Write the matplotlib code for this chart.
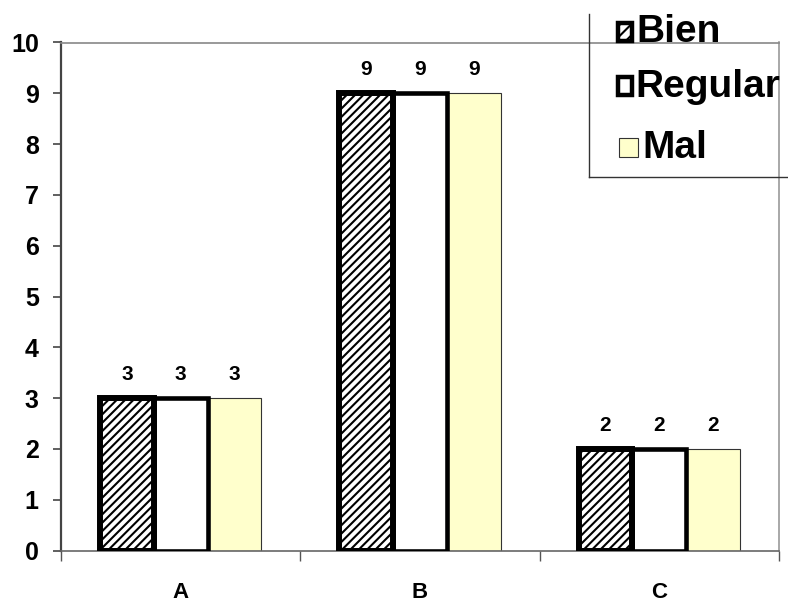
import matplotlib
matplotlib.use("Agg")
import matplotlib.pyplot as plt
from matplotlib.patches import Rectangle
from matplotlib.lines import Line2D
import numpy as np

categories = ["A", "B", "C"]
series_names = ["Bien", "Regular", "Mal"]
bien = [3, 9, 2]
regular = [3, 9, 2]
mal = [3, 9, 2]
y_ticks = list(range(0, 11))

plt.rcParams["font.family"] = ["Liberation Sans", "DejaVu Sans"]
plt.rcParams["font.weight"] = "bold"
plt.rcParams["hatch.linewidth"] = 1.5
plt.rcParams["hatch.color"] = "black"

W, H = 788, 603
fig = plt.figure(figsize=(W / 100, H / 100), dpi=100)
fig.patch.set_facecolor("white")


def fx(px):
    return px / W


def fy(py):
    return 1 - py / H


ax = fig.add_axes([fx(61), fy(550.5), fx(779) - fx(61), fy(42.5) - fy(550.5)])

x = np.arange(len(categories))
bw = 0.225
yellow = "#FFFFCC"

bars_mal = ax.bar(x + bw, mal, bw, color=yellow, edgecolor="#333333",
                  linewidth=0.8, zorder=2)
bars_reg = ax.bar(x, regular, bw, color="white", edgecolor="black",
                  linewidth=3.3, zorder=3)
bars_bien = ax.bar(x - bw, bien, bw, color="white", edgecolor="black",
                   hatch="////", linewidth=4.3, zorder=4)

for bars, vals in ((bars_bien, bien), (bars_reg, regular), (bars_mal, mal)):
    for b, v in zip(bars, vals):
        ax.annotate(str(v), (b.get_x() + b.get_width() / 2, v),
                    xytext=(0, 13), textcoords="offset points",
                    ha="center", va="baseline", fontsize=15,
                    fontweight="bold", color="black")

ax.set_xlim(-0.5, len(categories) - 0.5)
ax.set_ylim(0, 10)
ax.set_yticks(y_ticks)
ax.set_yticklabels([str(t) for t in y_ticks], fontsize=18, fontweight="bold")
ax.set_xticks(x)
ax.set_xticklabels(categories, fontsize=16, fontweight="bold")
ax.tick_params(axis="x", length=0, pad=23)
ax.set_xticks(np.arange(-0.5, len(categories), 1.0), minor=True)
ax.tick_params(axis="x", which="minor", length=7, width=1, color="#555555",
               direction="out")
ax.tick_params(axis="y", length=6, width=1.2, color="#444444", pad=10,
               direction="out")

ax.spines["left"].set_color("#444444")
ax.spines["left"].set_linewidth(1.6)
ax.spines["bottom"].set_color("#666666")
ax.spines["bottom"].set_linewidth(1.2)
ax.spines["top"].set_color("#888888")
ax.spines["top"].set_linewidth(1.2)
ax.spines["right"].set_color("#999999")
ax.spines["right"].set_linewidth(1.2)

# Legend frame (partly outside the canvas)
fig.add_artist(Line2D([fx(589), fx(589)], [fy(14), fy(177)],
                      transform=fig.transFigure, color="#333333", lw=1.0))
fig.add_artist(Line2D([fx(589), fx(790)], [fy(177), fy(177)],
                      transform=fig.transFigure, color="#333333", lw=1.0))

# Legend keys and labels
keys = [
    dict(x0=618, y0=23, w=14, h=18, fc="white", ec="black", lw=3.2, hatch="///"),
    dict(x0=618, y0=77, w=14, h=18, fc="white", ec="black", lw=3.2, hatch=None),
    dict(x0=619, y0=138, w=19, h=19, fc=yellow, ec="#333333", lw=0.8, hatch=None),
]
label_pos = [(636, 42), (635, 97), (642, 158)]
for name, k, (tx, ty) in zip(series_names, keys, label_pos):
    r = Rectangle((fx(k["x0"]), fy(k["y0"] + k["h"])), fx(k["w"]), k["h"] / H,
                  transform=fig.transFigure, facecolor=k["fc"],
                  edgecolor=k["ec"], linewidth=k["lw"], hatch=k["hatch"],
                  zorder=5)
    fig.add_artist(r)
    fig.text(fx(tx), fy(ty), name, fontsize=28, fontweight="bold",
             ha="left", va="baseline", color="black", zorder=6)

fig.savefig("out.png", dpi=100, facecolor="white")
